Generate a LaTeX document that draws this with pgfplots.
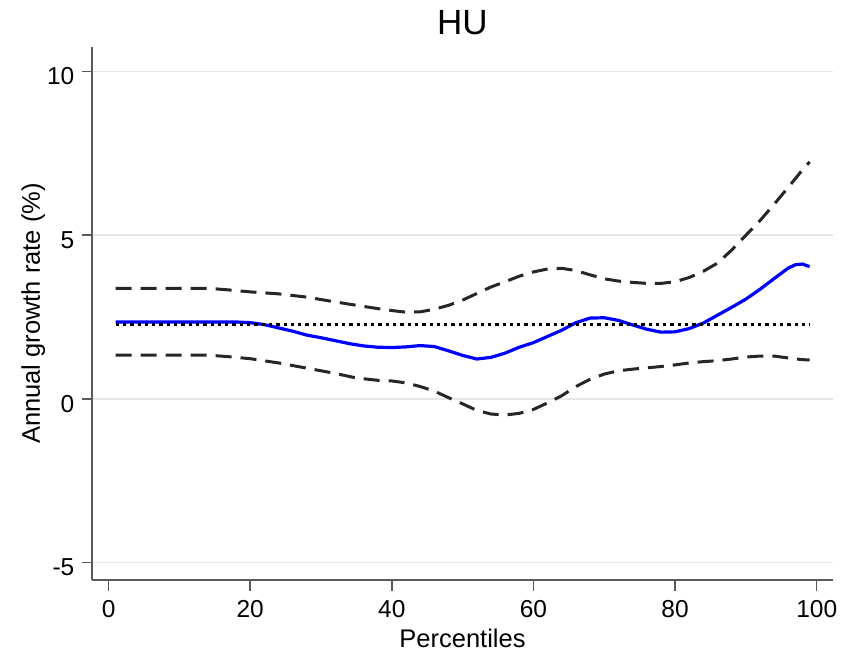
\documentclass[border=0pt]{standalone}
\usepackage{fontspec}
\setmainfont{Liberation Sans}
\usepackage{pgfplots}
\pgfplotsset{compat=1.18}
\definecolor{cigray}{HTML}{262626}
\definecolor{axgray}{HTML}{5A5A5A}
\definecolor{gridgray}{HTML}{E6E6E6}
\begin{document}
\begin{tikzpicture}
\path[use as bounding box] (-92bp,-74bp) rectangle (751bp,580bp);
\begin{axis}[
  at={(0,0)}, anchor=south west,
  scale only axis,
  width=741bp, height=533bp,
  xmin=-2.34, xmax=102.3,
  ymin=-5.53, ymax=10.75,
  xtick={0,20,40,60,80,100},
  xticklabels={0,20,40,60,80,100},
  ytick={-5,0,5,10},
  yticklabels={-5,0,5,10},
  /pgf/number format/assume math mode=true,
  axis x line*=bottom, axis y line*=left,
  x axis line style={-}, y axis line style={-},
  axis line style={draw=axgray, line width=1.5bp},
  tick align=outside,
  major tick length=10.5bp,
  tick style={draw=axgray, line width=1.5bp},
  ymajorgrids,
  grid style={draw=gridgray, line width=1.6bp},
  ticklabel style={font=\fontsize{24.5bp}{28bp}\selectfont, text=black, inner sep=0pt},
  yticklabel style={anchor=east, xshift=-7bp, yshift=-5bp},
  xticklabel style={anchor=north, yshift=-10bp},
  xlabel={Percentiles},
  xlabel style={at={(axis description cs:0.5,-0.1257)}, anchor=base, font=\fontsize{25.5bp}{30bp}\selectfont, inner sep=0pt},
  ylabel={Annual growth rate (\%)},
  ylabel style={at={(axis description cs:-0.07017,0.5)}, anchor=base, font=\fontsize{25.5bp}{30bp}\selectfont, inner sep=0pt},
  title={HU},
  title style={at={(axis description cs:0.5,1.0131)}, anchor=base, font=\fontsize{35bp}{40bp}\selectfont, inner sep=0pt},
  clip=false,
]
% upper confidence band
\addplot[cigray, line width=3bp, dash pattern=on 16bp off 9bp] coordinates {
(1,3.38) (5,3.38) (10,3.38) (14,3.38) (17,3.33) (20,3.27) (24,3.21) (28,3.11)
(31,3.00) (35,2.86) (38,2.76) (40,2.70) (42,2.65) (44,2.66) (46,2.74) (48,2.86)
(50,3.02) (52,3.22) (54,3.42) (56,3.58) (58,3.75) (60,3.88) (62,3.97) (64,3.99)
(66,3.92) (68,3.79) (70,3.67) (72,3.60) (74,3.56) (76,3.53) (78,3.53) (80,3.58)
(82,3.71) (84,3.90) (86,4.15) (88,4.55) (90,5.00) (92,5.45) (94,5.95) (96,6.47)
(98,7.00) (99,7.24)
};
% lower confidence band
\addplot[cigray, line width=3bp, dash pattern=on 16bp off 9bp] coordinates {
(1,1.34) (5,1.34) (10,1.34) (14,1.34) (17,1.29) (20,1.23) (24,1.10) (28,0.94)
(32,0.78) (35,0.64) (38,0.57) (40,0.55) (42,0.49) (44,0.38) (46,0.24) (48,0.04)
(50,-0.15) (52,-0.35) (54,-0.46) (56,-0.49) (58,-0.44) (60,-0.32) (62,-0.12) (64,0.10)
(66,0.38) (68,0.60) (70,0.76) (72,0.86) (74,0.91) (76,0.95) (78,0.99) (80,1.04)
(82,1.10) (84,1.14) (86,1.17) (88,1.22) (90,1.28) (92,1.31) (94,1.31) (96,1.25)
(98,1.20) (99,1.19)
};
% growth incidence curve
\addplot[blue, line width=3.2bp, line join=round] coordinates {
(1,2.35) (5,2.35) (10,2.35) (15,2.35) (18,2.35) (20,2.33) (22,2.27) (24,2.17)
(26,2.07) (28,1.95) (30,1.87) (32,1.78) (34,1.69) (36,1.62) (38,1.58) (40,1.57)
(42,1.59) (44,1.63) (46,1.60) (48,1.47) (50,1.33) (52,1.22) (54,1.27) (56,1.40)
(58,1.58) (60,1.72) (62,1.91) (64,2.10) (66,2.33) (68,2.47) (70,2.48) (72,2.40)
(74,2.26) (76,2.13) (78,2.04) (80,2.05) (82,2.15) (84,2.32) (86,2.56) (88,2.80)
(90,3.05) (92,3.35) (94,3.68) (96,4.00) (97,4.10) (98,4.12) (99,4.04)
};
% mean growth
\addplot[black, line width=3bp, dash pattern=on 3.3bp off 4bp] coordinates {
(1,2.26) (99,2.26)
};
\end{axis}
\end{tikzpicture}
\end{document}
